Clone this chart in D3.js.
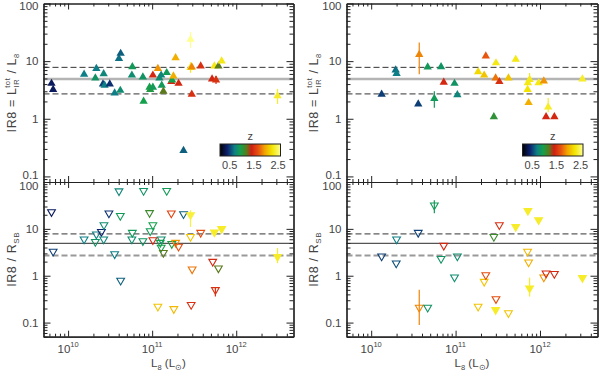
<!DOCTYPE html>
<html><head><meta charset="utf-8">
<script src="https://cdn.jsdelivr.net/npm/d3@7"></script>
<style>
body{margin:0;background:#fff}
svg{display:block}
text{font-family:"Liberation Sans",Arial,Helvetica,sans-serif}
</style>
</head><body>
<svg id="chart" width="600" height="370"></svg>
<script>
// ---------- DATA ----------
// Top-left panel: IR8 = L_IR^tot / L_8 (filled up-triangles)
const tlL   = [6.35e9,6.64e9,1.55e10,2.17e10,2.11e10,2.65e10,2.60e10,2.72e10,3.13e10,3.58e10,4.03e10,4.22e10,4.18e10,5.81e10,5.74e10,7.76e10,7.91e10,9.31e10,9.48e10,1.02e11,1.02e11,1.17e11,1.22e11,1.28e11,1.30e11,1.36e11,1.49e11,1.69e11,1.73e11,1.79e11,1.90e11,2.06e11,2.36e11,2.86e11,2.86e11,2.96e11,2.96e11,3.78e11,5.16e11,5.50e11,5.75e11,6.14e11,6.71e11,3.10e12];
const tlIR8 = [4.1,3.2,5.9,7.4,5.1,6.0,4.0,3.8,4.0,2.8,11.1,13.6,3.1,8.0,5.7,5.3,2.0,3.5,3.2,3.5,5.7,7.4,5.1,5.7,3.8,3.0,6.3,4.4,4.7,5.5,11.4,4.1,0.28,23.8,7.7,7.9,2.65,8.2,4.9,8.2,4.7,8.2,10,2.5];
const tlZ   = [0.35,0.35,0.7,0.7,0.85,0.75,0.5,0.7,0.45,0.7,0.65,0.6,0.8,0.9,0.8,0.85,0.95,0.95,1.0,0.9,1.45,1.9,0.8,0.75,0.9,1.2,0.9,1.45,0.95,2.0,2.0,1.45,0.6,2.6,2.3,1.85,1.5,1.5,1.45,2.3,1.5,1.2,2.3,2.35];
const tlErr = [[33,17,32],[34,6.3,9.6],[40,4.0,5.5],[43,1.8,3.3]];

// Top-right panel
const trL   = [1.33e10,1.95e10,2.0e10,3.61e10,3.71e10,4.67e10,5.60e10,6.73e10,7.24e10,9.71e10,1.05e11,1.85e11,2.18e11,2.28e11,3.01e11,2.98e11,3.30e11,4.23e11,5.16e11,7.19e11,7.13e11,7.33e11,7.53e11,9.64e11,1.11e12,1.25e12,1.18e12,1.48e12,3.18e12,2.84e11];
const trIR8 = [2.65,7.0,6.1,1.8,13,7.9,2.25,8.0,4.3,4.1,2.6,6.5,5.7,12.2,9.3,5.1,4.4,5.1,10.7,4.2,3.2,1.9,4.8,4.2,4.5,1.6,1.08,1.08,4.9,1.08];
const trZ   = [0.5,0.65,0.7,0.5,1.85,0.9,0.9,0.85,1.45,0.85,0.75,2.2,2.1,1.7,2.3,1.8,1.5,2.1,2.3,2.3,2.25,2.0,2.3,2.3,1.9,2.35,1.45,1.45,2.35,1.05];
const trErr = [[4,5.9,21],[6,1.55,3.0],[22,4.0,6.2],[25,1.3,2.3]];

// Bottom-left panel: IR8 / R_SB (open down-triangles)
const blL   = [6.35e9,6.64e9,1.55e10,2.11e10,2.17e10,2.49e10,2.65e10,2.67e10,3.06e10,3.58e10,4.03e10,4.18e10,4.22e10,5.81e10,5.74e10,7.76e10,7.91e10,9.31e10,9.48e10,1.02e11,1.02e11,1.28e11,1.25e11,1.28e11,1.36e11,1.49e11,1.69e11,1.71e11,1.90e11,2.06e11,2.36e11,2.86e11,2.86e11,2.99e11,2.91e11,1.17e11,1.81e11,3.78e11,5.25e11,5.50e11,5.65e11,6.14e11,6.71e11,3.10e12];
const blIR8 = [23,3.3,6.0,5.3,7.7,8.7,6.0,12.1,21.5,2.9,64,19,0.79,8.3,6.0,5.5,65,22,9.0,12.1,5.8,6.0,5.1,4.0,3.1,65,21.5,4.8,5.1,4.2,20.8,19.8,6.8,1.38,0.24,0.22,0.196,8.3,2.0,8.5,0.50,1.45,10,2.55];
const blZ   = [0.35,0.5,0.7,0.85,0.7,0.4,0.75,0.8,0.45,0.7,0.75,0.9,0.6,0.9,0.8,0.85,0.85,1.1,0.9,0.95,1.45,0.8,0.95,0.95,1.2,0.9,1.6,1.0,1.9,1.65,0.6,2.4,2.1,1.8,1.5,2.1,2.05,1.65,1.45,2.35,1.5,1.2,2.35,2.35];
const blErr = [[31,11,25],[40,0.36,0.57],[43,1.85,3.9]];

// Bottom-right panel
const brL   = [1.33e10,2.0e10,1.98e10,3.61e10,3.71e10,4.67e10,5.60e10,7.24e10,6.73e10,9.71e10,1.05e11,1.85e11,2.18e11,2.28e11,3.01e11,2.98e11,3.30e11,2.84e11,4.23e11,5.16e11,7.19e11,7.13e11,7.33e11,7.53e11,9.64e11,1.11e12,1.18e12,1.48e12,3.18e12];
const brIR8 = [2.6,6.0,1.85,8.3,0.21,0.21,32,4.4,2.3,0.93,2.6,0.22,0.75,1.04,0.32,0.187,12.1,6.8,0.16,11.1,24.4,3.3,1.94,0.54,15.5,0.93,1.13,1.1,0.90];
const brZ   = [0.5,0.7,0.55,0.5,1.85,0.85,0.9,1.45,0.85,0.8,0.8,2.1,2.1,1.65,1.65,2.35,1.5,1.1,2.1,2.35,2.35,2.05,2.0,2.35,2.35,1.9,1.45,1.45,2.35];
const brErr = [[4,0.089,0.50],[6,21.5,41],[23,0.36,0.91]];

// reference lines
const ir8Main = 4.9, ir8Hi = 7.8, ir8Lo = 2.7;

// colour table (z)
const zStops = [0.1, 0.4, 0.7, 0.95, 1.2, 1.4, 1.7, 1.95, 2.25, 2.6];
const cStops = ["#000000","#0c1f6e","#0e7f86","#14a14c","#5a7a1c","#d01e12","#e8560e","#f2a400","#f2e400","#ffff90"];
const zTicks = [0.5, 1.5, 2.5];

// ---------- DRAW ----------
const svg = d3.select("#chart");
const color = d3.scaleLinear().domain(zStops).range(cStops).interpolate(d3.interpolateRgb).clamp(true);

const xDom = [5.1e9, 4.8e12];
const cols = [[43.5, 293.5], [346.5, 597.5]];
const rowsY = [{dom:[0.08,100], range:[182,3.5]}, {dom:[0.05,100], range:[336.7,182]}];

function isMajor(v){ const l=Math.log10(v); return Math.abs(l-Math.round(l))<1e-6; }

function drawPanel(col,row,L,V,Z,E){
  const x = d3.scaleLog().domain(xDom).range(cols[col]);
  const y = d3.scaleLog().domain(rowsY[row].dom).range(rowsY[row].range);
  const g = svg.append("g");
  const [x0,x1] = x.range(), [yb,yt] = y.range();

  // reference lines
  const lines = row===0
    ? [{v:ir8Main,c:"#b4b4b4",w:2.6,d:null},{v:ir8Hi,c:"#333",w:1,d:"6,3"},{v:ir8Lo,c:"#333",w:1,d:"6,3"}]
    : [{v:ir8Main,c:"#555",w:1.1,d:null},{v:ir8Hi,c:"#333",w:1,d:"6,3"},{v:ir8Lo,c:"#999",w:2,d:"6,3"}];
  lines.forEach(l=>{
    g.append("line").attr("x1",x0).attr("x2",x1).attr("y1",y(l.v)).attr("y2",y(l.v))
      .attr("stroke",l.c).attr("stroke-width",l.w).attr("stroke-dasharray",l.d);
  });

  // axes
  const xt = x.ticks(), yt2 = y.ticks();
  const xMaj = xt.filter(isMajor), xMin = xt.filter(v=>!isMajor(v));
  const yMaj = yt2.filter(isMajor), yMin = yt2.filter(v=>!isMajor(v));
  const ax = (gen, vals, size, tr) => {
    const a = g.append("g").attr("transform",tr)
      .call(gen.tickValues(vals).tickSize(size).tickSizeOuter(0).tickFormat(""));
    a.select(".domain").attr("stroke","#222").attr("stroke-width",1.2);
    a.selectAll(".tick line").attr("stroke","#222").attr("stroke-width",1);
  };
  ax(d3.axisBottom(x), xMaj, -6, `translate(0,${yb})`);
  ax(d3.axisBottom(x), xMin, -3, `translate(0,${yb})`);
  ax(d3.axisTop(x), xMaj, -6, `translate(0,${yt})`);
  ax(d3.axisTop(x), xMin, -3, `translate(0,${yt})`);
  ax(d3.axisLeft(y), yMaj, -7, `translate(${x0},0)`);
  ax(d3.axisLeft(y), yMin, -4, `translate(${x0},0)`);
  ax(d3.axisRight(y), yMaj, -7, `translate(${x1},0)`);
  ax(d3.axisRight(y), yMin, -4, `translate(${x1},0)`);

  // y tick labels
  yMaj.forEach(v=>{
    let yy = y(v);
    if (Math.abs(yy-yt)<1) yy += (row===0 ? 2 : 4);
    if (row===0 && v===0.1) yy -= 2;
    g.append("text").attr("x",x0-5).attr("y",yy).attr("dy","0.36em")
      .attr("text-anchor","end").attr("font-size",11.5).attr("fill","#444")
      .text(v<1 ? d3.format(".1f")(v) : d3.format("d")(v));
  });
  // x tick labels (bottom row only)
  if(row===1){
    xMaj.forEach(v=>{
      const t = g.append("text").attr("x",x(v)).attr("y",353).attr("text-anchor","middle")
        .attr("font-size",11.5).attr("fill","#444");
      t.append("tspan").text("10");
      t.append("tspan").attr("dy",-6).attr("font-size",7.5).text(String(Math.round(Math.log10(v))));
    });
  }

  // error bars
  E.forEach(([i,lo,hi])=>{
    g.append("line").attr("x1",x(L[i])).attr("x2",x(L[i])).attr("y1",y(lo)).attr("y2",y(hi))
      .attr("stroke",color(Z[i])).attr("stroke-width",1.2);
  });

  // markers
  const idx = d3.range(L.length);
  if(row===0){
    const sym = d3.symbol().type(d3.symbolTriangle).size(30);
    g.selectAll("path.m").data(idx).join("path").attr("class","m")
      .attr("d",sym)
      .attr("transform",i=>`translate(${x(L[i])},${y(V[i])})`)
      .attr("fill",i=>color(Z[i]));
  } else {
    const sym = d3.symbol().type(d3.symbolTriangle).size(26);
    g.selectAll("path.m").data(idx).join("path").attr("class","m")
      .attr("d",sym)
      .attr("transform",i=>`translate(${x(L[i])},${y(V[i])}) rotate(180)`)
      .attr("fill",i=>Z[i]>=2.3?color(Z[i]):"none")
      .attr("stroke",i=>color(Z[i])).attr("stroke-width",1.1);
  }

  // y label
  const cy = (yb+yt)/2, lx = col===0 ? 16 : 318;
  const yl = g.append("text").attr("transform",`translate(${lx},${cy}) rotate(-90)`)
    .attr("text-anchor","middle").attr("font-size",12.5).attr("letter-spacing",0.6).attr("fill","#444");
  if(row===0){
    yl.append("tspan").text("IR8 = L");
    yl.append("tspan").attr("dy",3).attr("font-size",7.5).text("IR");
    yl.append("tspan").attr("dx",-9).attr("dy",-9).attr("font-size",7.5).text("tot");
    yl.append("tspan").attr("dy",6).text(" / L");
    yl.append("tspan").attr("dy",3).attr("font-size",7.5).text("8");
  } else {
    yl.append("tspan").text("IR8 / R");
    yl.append("tspan").attr("dy",3).attr("font-size",8).text("SB");
  }
  // x label
  if(row===1){
    const xl = g.append("text").attr("x",(x0+x1)/2).attr("y",366.5).attr("text-anchor","middle")
      .attr("font-size",11.5).attr("fill","#444");
    xl.append("tspan").text("L");
    xl.append("tspan").attr("dy",3).attr("font-size",7.5).text("8");
    xl.append("tspan").attr("dy",-3).text(" (L");
    xl.append("tspan").attr("dy",3).attr("font-size",7.5).text("\u2299");
    xl.append("tspan").attr("dy",-3).text(")");
  }

  // colour bar (top row)
  if(row===0){
    const bx0 = col===0 ? 220 : 522.5, bw = 60.5, by = 144, bh = 12;
    const cz = d3.scaleLinear().domain([0.1,2.6]).range([bx0,bx0+bw]);
    const gid = "grad"+col;
    const grad = svg.append("defs").append("linearGradient").attr("id",gid)
      .attr("x1","0%").attr("x2","100%").attr("y1","0%").attr("y2","0%");
    zStops.forEach(z=>grad.append("stop").attr("offset",((z-0.1)/2.5*100)+"%").attr("stop-color",color(z)));
    g.append("rect").attr("x",bx0).attr("y",by).attr("width",bw).attr("height",bh)
      .attr("fill",`url(#${gid})`).attr("stroke","#222").attr("stroke-width",1);
    g.append("text").attr("x",bx0+bw/2).attr("y",by-4).attr("text-anchor","middle")
      .attr("font-size",11).attr("fill","#444").text("z");
    zTicks.forEach(z=>{
      g.append("text").attr("x",cz(z)).attr("y",by+bh+13).attr("text-anchor","middle")
        .attr("font-size",11).attr("fill","#444").text(d3.format(".1f")(z));
    });
  }
}

drawPanel(0,0,tlL,tlIR8,tlZ,tlErr);
drawPanel(1,0,trL,trIR8,trZ,trErr);
drawPanel(0,1,blL,blIR8,blZ,blErr);
drawPanel(1,1,brL,brIR8,brZ,brErr);
</script>
</body></html>
